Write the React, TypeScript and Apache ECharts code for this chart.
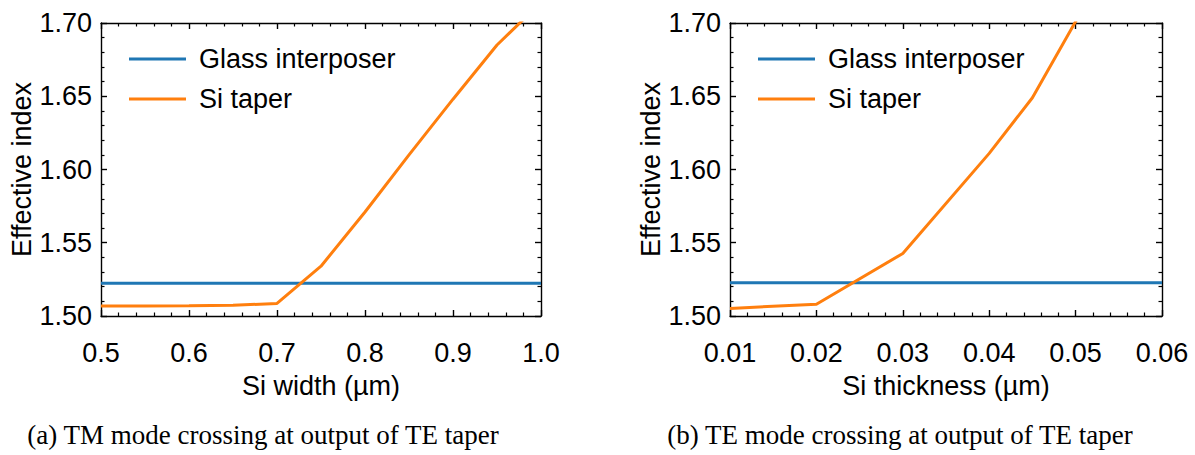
import React, { useEffect, useRef } from "react";
import * as echarts from "echarts";

// Panel (a): TM mode vs Si width
const widthUm = [0.5, 0.55, 0.6, 0.65, 0.7, 0.75, 0.8, 0.85, 0.9, 0.95, 1.0];
const glassA = [1.5223, 1.5223, 1.5223, 1.5223, 1.5223, 1.5223, 1.5223, 1.5223, 1.5223, 1.5223, 1.5223];
const taperA = [1.5068, 1.5069, 1.507, 1.5073, 1.5086, 1.534, 1.571, 1.61, 1.648, 1.685, 1.714];

// Panel (b): TE mode vs Si thickness
const thicknessUm = [0.01, 0.02, 0.03, 0.04, 0.045, 0.05, 0.06];
const glassB = [1.5227, 1.5227, 1.5227, 1.5227, 1.5227, 1.5227, 1.5227];
const taperB = [1.5052, 1.508, 1.5427, 1.611, 1.649, 1.701, 1.8];

const yTicks = { min: 1.5, max: 1.7, interval: 0.05 };
const captionA = "(a) TM mode crossing at output of TE taper";
const captionB = "(b) TE mode crossing at output of TE taper";

const BLUE = "#1f77b4";
const ORANGE = "#ff7f0e";
const SANS = "'Liberation Sans', Arial, Helvetica, sans-serif";
const SERIF = "'Liberation Serif', 'Times New Roman', serif";

const zip = (xs: number[], ys: number[]) => xs.map((x, i) => [x, ys[i]]);

export default function App() {
  const ref = useRef<HTMLDivElement>(null);

  useEffect(() => {
    if (!ref.current) return;
    const chart = echarts.init(ref.current, undefined, { renderer: "svg" });

    const frameLine = () => ({ show: true, onZero: false, lineStyle: { color: "#000", width: 1.4 } });
    const tick = () => ({ show: true, inside: true, length: 6, lineStyle: { color: "#000", width: 1.4 } });
    const minor = () => ({ show: true, splitNumber: 5, length: 3.5, lineStyle: { color: "#000", width: 1.2 } });

    const mainX = (gridIndex: number, min: number, max: number, interval: number, digits: number, name: string) => ({
      type: "value",
      gridIndex,
      position: "bottom",
      min,
      max,
      interval,
      name,
      nameLocation: "middle",
      nameGap: 56,
      nameTextStyle: { fontFamily: SANS, fontSize: 27, color: "#000" },
      axisLine: frameLine(),
      axisTick: tick(),
      minorTick: minor(),
      splitLine: { show: false },
      minorSplitLine: { show: false },
      axisLabel: { show: true, fontFamily: SANS, fontSize: 27, color: "#000", margin: 23, formatter: (v: number) => v.toFixed(digits) },
    });
    const mirrorX = (gridIndex: number, min: number, max: number, interval: number) => ({
      type: "value",
      gridIndex,
      position: "top",
      min,
      max,
      interval,
      axisLine: frameLine(),
      axisTick: tick(),
      minorTick: minor(),
      splitLine: { show: false },
      minorSplitLine: { show: false },
      axisLabel: { show: false },
    });
    const mainY = (gridIndex: number) => ({
      type: "value",
      gridIndex,
      position: "left",
      ...yTicks,
      name: "Effective index",
      nameLocation: "middle",
      nameGap: 66,
      nameTextStyle: { fontFamily: SANS, fontSize: 27, color: "#000" },
      axisLine: frameLine(),
      axisTick: tick(),
      minorTick: minor(),
      splitLine: { show: false },
      minorSplitLine: { show: false },
      axisLabel: { show: true, fontFamily: SANS, fontSize: 27, color: "#000", margin: 9, formatter: (v: number) => v.toFixed(2) },
    });
    const mirrorY = (gridIndex: number) => ({
      type: "value",
      gridIndex,
      position: "right",
      ...yTicks,
      axisLine: frameLine(),
      axisTick: tick(),
      minorTick: minor(),
      splitLine: { show: false },
      minorSplitLine: { show: false },
      axisLabel: { show: false },
    });

    const line = (name: string, color: string, data: number[][], xAxisIndex: number, yAxisIndex: number) => ({
      type: "line",
      name,
      data,
      xAxisIndex,
      yAxisIndex,
      symbol: "none",
      showSymbol: false,
      clip: true,
      lineStyle: { color, width: 3 },
      itemStyle: { color },
      z: color === BLUE ? 2 : 3,
    });

    const legendStyle = {
      orient: "vertical",
      icon: "rect",
      itemWidth: 57,
      itemHeight: 3,
      itemGap: 10,
      textStyle: { fontFamily: SANS, fontSize: 27, color: "#000", padding: [0, 0, 0, 8], lineHeight: 30 },
      data: ["Glass interposer", "Si taper"],
    };

    chart.setOption({
      animation: false,
      backgroundColor: "#fff",
      grid: [
        { left: 101, top: 23, width: 440, height: 293 },
        { left: 730, top: 23, width: 432, height: 293 },
      ],
      xAxis: [
        mainX(0, 0.5, 1.0, 0.1, 1, "Si width (µm)"),
        mainX(1, 0.01, 0.06, 0.01, 2, "Si thickness (µm)"),
        mirrorX(0, 0.5, 1.0, 0.1),
        mirrorX(1, 0.01, 0.06, 0.01),
      ],
      yAxis: [mainY(0), mainY(1), mirrorY(0), mirrorY(1)],
      legend: [
        { ...legendStyle, left: 124, top: 39 },
        { ...legendStyle, left: 753, top: 39 },
      ],
      title: [
        { text: captionA, left: 258, top: 416, textAlign: "center", textStyle: { fontFamily: SERIF, fontSize: 27, fontWeight: "normal", color: "#000" } },
        { text: captionB, left: 895, top: 416, textAlign: "center", textStyle: { fontFamily: SERIF, fontSize: 27, fontWeight: "normal", color: "#000" } },
      ],
      series: [
        line("Glass interposer", BLUE, zip(widthUm, glassA), 0, 0),
        line("Si taper", ORANGE, zip(widthUm, taperA), 0, 0),
        line("Glass interposer", BLUE, zip(thicknessUm, glassB), 1, 1),
        line("Si taper", ORANGE, zip(thicknessUm, taperB), 1, 1),
      ],
    });

    return () => chart.dispose();
  }, []);

  return (
    <div
      ref={ref}
      style={{ position: "fixed", left: 0, top: 0, width: 1195, height: 455, background: "#fff" }}
    />
  );
}
